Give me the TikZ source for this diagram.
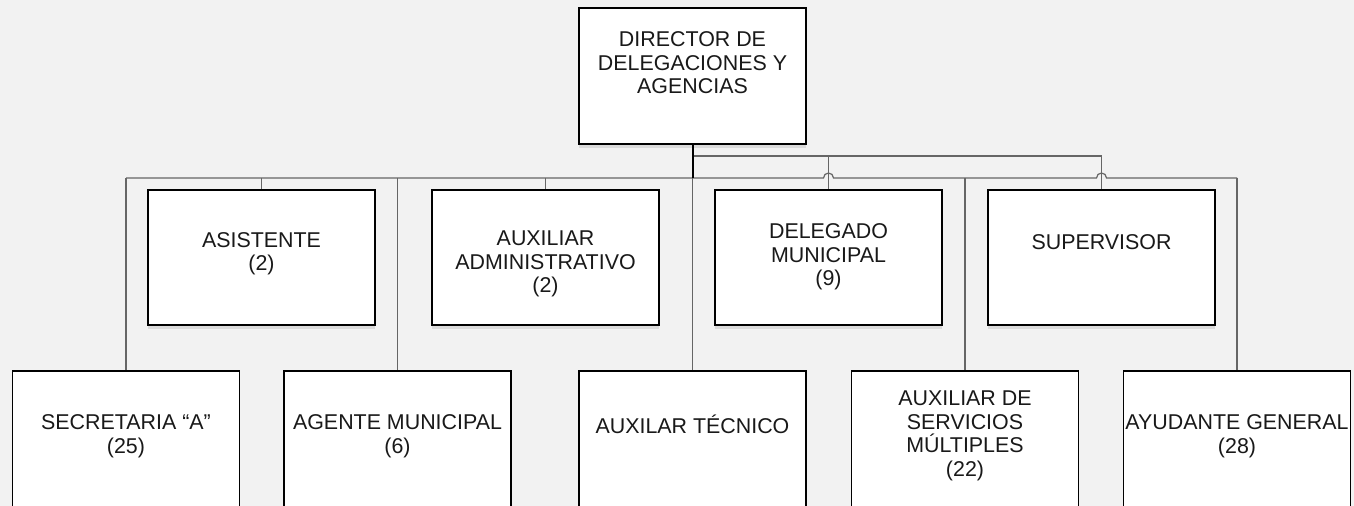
\documentclass[tikz,border=0pt]{standalone}
\usepackage{fontspec}
\setmainfont{Liberation Sans}
\usetikzlibrary{calc,positioning,shadows}

\begin{document}
\begin{tikzpicture}[x=0.5pt,y=-0.5pt,
  puesto/.style={draw=black,fill=white,line width=0.75pt,minimum width=113.5pt,minimum height=67.5pt,inner sep=0pt,
    drop shadow={shadow xshift=0pt,shadow yshift=-2pt,fill=gray!28,opacity=1}},
  rotulo/.style={align=center,inner sep=0pt,text=black!90,font=\fontsize{10.7}{11.75}\selectfont},
  liga/.style={draw=black!60,line width=0.6pt},
  tronco/.style={draw=black,line width=1pt}]
  \useasboundingbox (0,0) rectangle (1354,506);
  \clip (0,0) rectangle (1354,506);
  \fill[gray!10] (0,0) rectangle (1354,506);
  % --- cajas ---
  \node[puesto] (dir) at (692.5,76) [minimum height=68pt] {};
  \node[puesto] (asis) at (261.5,257.5) {};
  \node[puesto] (admin) at (545.5,257.5) {};
  \node[puesto] (deleg) at (828.5,257.5) {};
  \node[puesto] (sup) at (1101.5,257.5) {};
  \node[puesto] (sec) at (126,443.5) [minimum height=72.5pt] {};
  \node[puesto] (agen) at (397.5,443.5) [minimum height=72.5pt] {};
  \node[puesto] (tec) at (692.5,443.5) [minimum height=72.5pt] {};
  \node[puesto] (serv) at (965,443.5) [minimum height=72.5pt] {};
  \node[puesto] (ayud) at (1237,443.5) [minimum height=72.5pt] {};
  % --- textos ---
  \node[rotulo] (t-dir) at (692.5,63) {DIRECTOR DE\\DELEGACIONES Y\\AGENCIAS};
  \node[rotulo] (t-asis) at (261.5,254) {ASISTENTE\\(2)};
  \node[rotulo] (t-admin) at (545.5,264) {AUXILIAR\\ADMINISTRATIVO\\(2)};
  \node[rotulo] (t-deleg) at (828.5,257) {DELEGADO\\MUNICIPAL\\(9)};
  \node[rotulo] (t-sup) at (1101.5,242) {SUPERVISOR};
  \node[rotulo] (t-sec) at (126,436) {SECRETARIA “A”\\(25)};
  \node[rotulo] (t-agen) at (397.5,436) {AGENTE MUNICIPAL\\(6)};
  \node[rotulo] (t-tec) at (692.5,424) {AUXILAR TÉCNICO};
  \node[rotulo] (t-serv) at (965,436) {AUXILIAR DE\\SERVICIOS\\MÚLTIPLES\\(22)};
  \node[rotulo] (t-ayud) at (1237,436) {AYUDANTE GENERAL\\(28)};
  % --- lineas ---
  \coordinate (bus) at (692.5,178);
  \coordinate (alto) at (692.5,156);
  \draw[liga] (sec.north |- bus) -- ($(deleg.north |- bus)+(-2.5pt,0)$)
    arc[start angle=180,end angle=0,radius=2.5pt] -- ($(sup.north |- bus)+(-2.5pt,0)$)
    arc[start angle=180,end angle=0,radius=2.5pt] -- (ayud.north |- bus);
  \draw[liga] (alto) -- (sup.north |- alto) -- (sup.north);
  \draw[liga] (deleg.north |- alto) -- (deleg.north);
  \draw[liga] (sec.north |- bus) -- (sec.north);
  \draw[liga] (asis.north |- bus) -- (asis.north);
  \draw[liga] (agen.north |- bus) -- (agen.north);
  \draw[liga] (admin.north |- bus) -- (admin.north);
  \draw[liga] (bus) -- (tec.north);
  \draw[liga] (serv.north |- bus) -- (serv.north);
  \draw[liga] (ayud.north |- bus) -- (ayud.north);
  \draw[tronco] (dir.south) -- (bus);
\end{tikzpicture}
\end{document}
